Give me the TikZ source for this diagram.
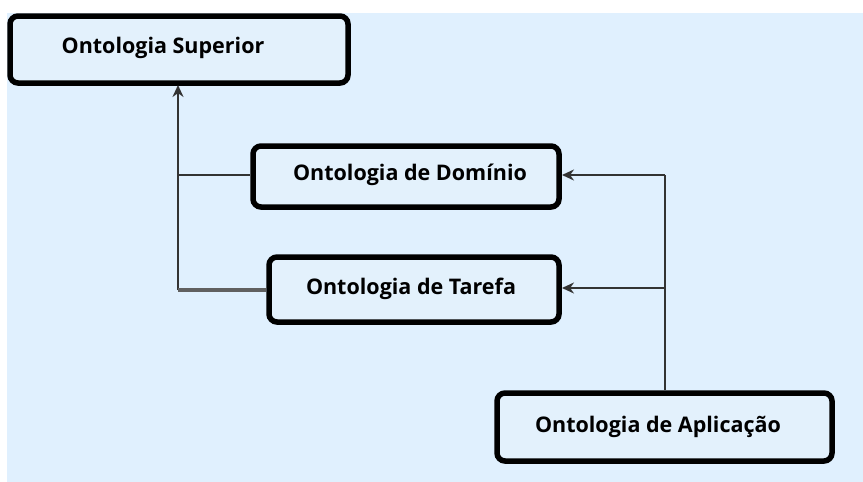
\documentclass[tikz,border=0pt]{standalone}
\usepackage{fontspec}
\setmainfont{Open Sans}
\usetikzlibrary{arrows.meta}
\definecolor{bgblue}{HTML}{E0F0FE}
\definecolor{boxfill}{HTML}{E3F1FC}
\definecolor{linegray}{HTML}{333333}
\begin{document}
\begin{tikzpicture}[x=1pt,y=-1pt,
  box/.style={draw=black, line width=5.5pt, rounded corners=8pt, fill=boxfill},
  lbl/.style={font=\bfseries\fontsize{21.5}{25}\selectfont, inner sep=0pt},
  conn/.style={draw=linegray, line width=2.5pt},
  arr/.style={conn, -{Stealth[length=12pt,width=11pt]}}]
\useasboundingbox (0,0) rectangle (863,482);
\fill[white] (0,0) rectangle (863,482);
\fill[bgblue] (7,13) rectangle (863,482);
% boxes
\draw[box] (10,16) rectangle (348,83);
\node[lbl] (sup) at (163,48) {Ontologia Superior};
\coordinate (supB) at (178,85);
\draw[box] (253,146) rectangle (559,207);
\node[lbl] (dom) at (410,175) {Ontologia de Domínio};
\coordinate (domL) at (250,175);
\coordinate (domR) at (562,175);
\draw[box] (269,257) rectangle (559,322);
\node[lbl] (tar) at (411,289) {Ontologia de Tarefa};
\coordinate (tarL) at (266,290);
\coordinate (tarR) at (562,288);
\draw[box] (497,393) rectangle (832,461);
\node[lbl] (apl) at (658,427) {Ontologia de Aplicação};
\coordinate (aplT) at (665,390);
% junctions
\coordinate (j1) at (178,290);
\coordinate (j2) at (178,175);
\coordinate (k1) at (665,175);
\coordinate (k2) at (665,288);
% left connectors
\draw[arr] (j1) -- (supB);
\draw[conn] (j2) -- (domL);
\draw[conn, draw=gray!75!black, line width=3.5pt] (j1) -- (tarL);
% right connectors
\draw[conn] (aplT) -- (k1);
\draw[arr] (k1) -- (domR);
\draw[arr] (k2) -- (tarR);
\end{tikzpicture}
\end{document}
